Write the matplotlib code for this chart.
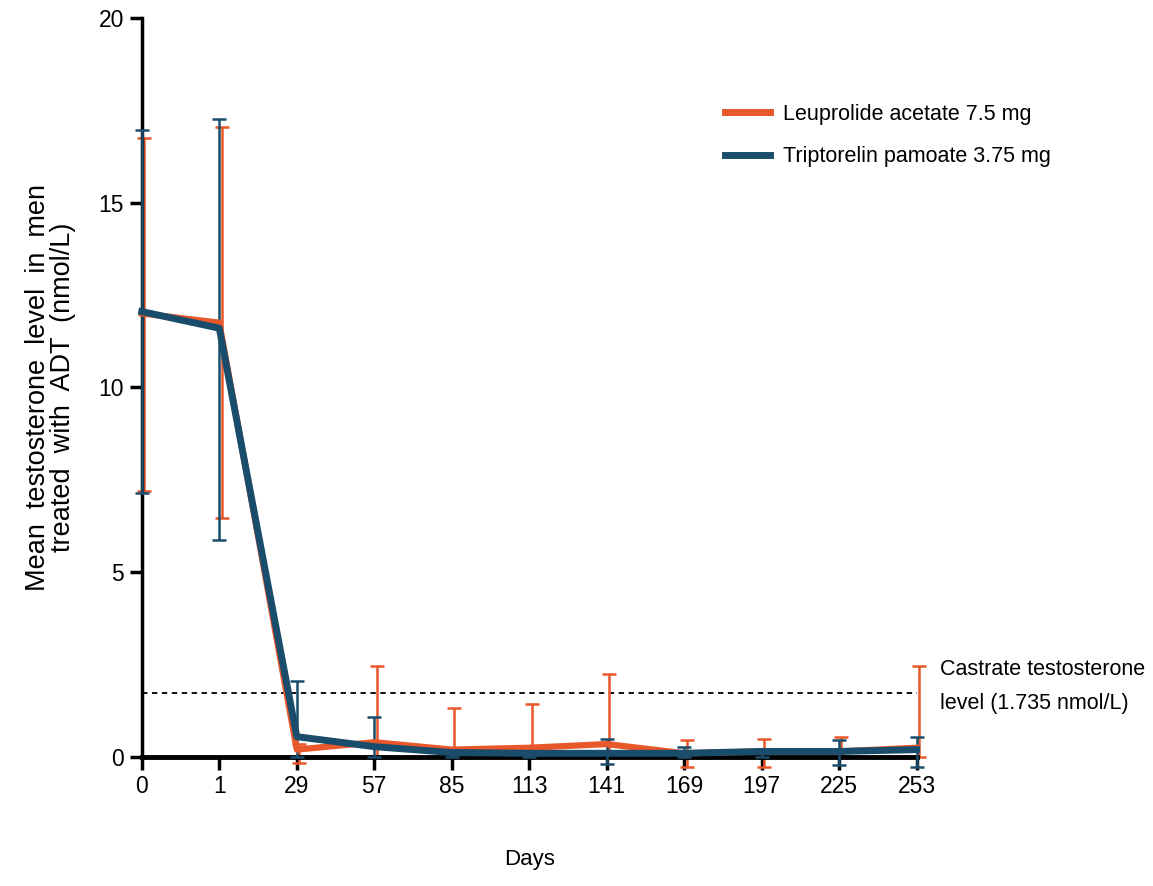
import matplotlib.pyplot as plt
import numpy as np

# Data
days = ["0", "1", "29", "57", "85", "113", "141", "169", "197", "225", "253"]

leu_mean = [12.0, 11.75, 0.2, 0.4, 0.2, 0.25, 0.35, 0.1, 0.15, 0.15, 0.25]
leu_upper = [16.75, 17.05, 0.35, 2.46, 1.32, 1.43, 2.25, 0.46, 0.49, 0.54, 2.46]
leu_lower = [7.2, 6.47, -0.16, 0.0, 0.0, 0.0, 0.0, -0.27, -0.27, 0.0, 0.0]

trip_mean = [12.05, 11.6, 0.55, 0.28, 0.12, 0.1, 0.1, 0.1, 0.15, 0.15, 0.2]
trip_upper = [16.95, 17.25, 2.06, 1.08, 0.2, 0.2, 0.49, 0.27, 0.2, 0.46, 0.54]
trip_lower = [7.15, 5.87, 0.0, 0.0, 0.0, 0.0, -0.19, 0.0, 0.0, -0.22, -0.27]

castrate_level = 1.735

orange = "#E8582B"
blue = "#1A4D6B"
font = ["Liberation Sans", "DejaVu Sans"]

x = np.arange(len(days))

fig = plt.figure(figsize=(11.53, 8.86), dpi=100)
ax = fig.add_axes([0.123, 0.1456, 0.672, 0.8344])

leu_mean_a = np.array(leu_mean)
trip_mean_a = np.array(trip_mean)
leu_err = [leu_mean_a - np.array(leu_lower), np.array(leu_upper) - leu_mean_a]
trip_err = [trip_mean_a - np.array(trip_lower), np.array(trip_upper) - trip_mean_a]

# castrate threshold
ax.plot([x[0], x[-1]], [castrate_level, castrate_level], ls=(0, (3, 2.5)),
        color="black", lw=1.3, zorder=1)

ax.errorbar(x + 0.03, leu_mean, yerr=leu_err, fmt="none", ecolor=orange,
            elinewidth=1.8, capsize=5, capthick=1.8, clip_on=False, zorder=2)
ax.errorbar(x, trip_mean, yerr=trip_err, fmt="none", ecolor=blue,
            elinewidth=1.8, capsize=5, capthick=1.8, clip_on=False, zorder=3)
ax.plot(x, leu_mean, color=orange, lw=4.5, label="Leuprolide acetate 7.5 mg",
        clip_on=False, zorder=4)
ax.plot(x, trip_mean, color=blue, lw=5, label="Triptorelin pamoate 3.75 mg",
        clip_on=False, zorder=5)

ax.set_xlim(0, 10)
ax.set_ylim(0, 20)
ax.set_xticks(x)
ax.set_xticklabels(days, family=font, fontsize=16.5)
ax.set_yticks([0, 5, 10, 15, 20])
ax.set_yticklabels(["0", "5", "10", "15", "20"], family=font, fontsize=16.5)
ax.tick_params(axis="both", direction="out", width=2.5, length=9, pad=4)

for side in ["top", "right"]:
    ax.spines[side].set_visible(False)
ax.spines["left"].set_linewidth(2.5)
ax.spines["bottom"].set_linewidth(3.5)

ax.set_xlabel("Days", family=font, fontsize=16)
ax.xaxis.set_label_coords(0.5, -0.125)
ax.set_ylabel("Mean  testosterone  level  in  men\ntreated  with  ADT  (nmol/L)",
              family=font, fontsize=19.5, linespacing=0.95)
ax.yaxis.set_label_coords(-0.085, 0.5)

ax.text(1.03, 0.095, "Castrate testosterone\nlevel (1.735 nmol/L)",
        transform=ax.transAxes, family=font, fontsize=15.5,
        ha="left", va="center", linespacing=1.8)

leg = ax.legend(loc="upper left", bbox_to_anchor=(0.728, 0.91), frameon=False,
                prop={"family": font, "size": 15.5}, handlelength=2.1,
                handletextpad=0.6, labelspacing=1.0)
for line in leg.get_lines():
    line.set_linewidth(5)

fig.savefig("out.png", dpi=100)
